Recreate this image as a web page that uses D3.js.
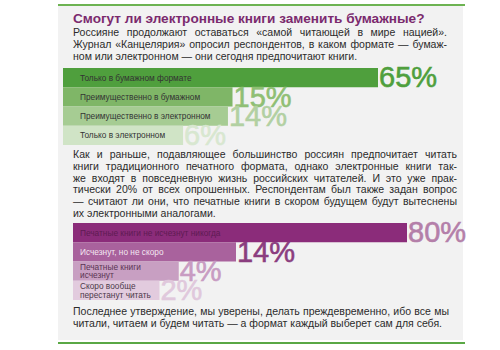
<!DOCTYPE html>
<html><head><meta charset="utf-8">
<script src="https://cdn.jsdelivr.net/npm/d3@7"></script>
<style>body{margin:0;background:#fff}</style>
</head><body><svg id="c" width="500" height="350"></svg>
<script>
// ---- data ----
const formatCategories = ["Только в бумажном формате", "Преимущественно в бумажном", "Преимущественно в электронном", "Только в электронном"];
const formatValues = [65, 15, 14, 6];
const futureCategories = ["Печатные книги не исчезнут никогда", "Исчезнут, но не скоро", "Печатные книги исчезнут", "Скоро вообще перестанут читать"];
const futureValues = [80, 14, 4, 2];
const futureLabelLines = [["Печатные книги не исчезнут никогда"], ["Исчезнут, но не скоро"], ["Печатные книги", "исчезнут"], ["Скоро вообще", "перестанут читать"]];
const titleText = "Смогут ли электронные книги заменить бумажные?";
const para1 = [
  "Россияне продолжают оставаться «самой читающей в мире нацией».",
  "Журнал «Канцелярия» опросил респондентов, в каком формате — бумаж-",
  "ном или электронном — они сегодня предпочитают книги."
];
const para2 = [
  "Как и раньше, подавляющее большинство россиян предпочитает читать",
  "книги традиционного печатного формата, однако электронные книги так-",
  "же входят в повседневную жизнь российских читателей. И это уже прак-",
  "тически 20% от всех опрошенных. Респондентам был также задан вопрос",
  "— считают ли они, что печатные книги в скором будущем будут вытеснены",
  "их электронными аналогами."
];
const para3 = [
  "Последнее утверждение, мы уверены, делать преждевременно, ибо все мы",
  "читали, читаем и будем читать — а формат каждый выберет сам для себя."
];

// ---- styles ----
const greenBars = ["#4f9f3d", "#7fb667", "#a6cc93", "#d0e4c6"];
const greenPct = ["#4f9f3d", "#8fbf74", "#b2d0a2", "#d8e7d0"];
const purpleBars = ["#8b2c7a", "#a9629d", "#c89fc2", "#e2cbde"];
const purplePct = ["#b47fa9", "#8b3d7f", "#c89cc2", "#e0c8dc"];
const purpleLabel = ["#5e1b52", "#f3e6f1", "#5a3553", "#4d3a4a"];
const FONT = "'Liberation Sans', Arial, sans-serif";

const svg = d3.select("#c");
svg.append("rect").attr("x", 58).attr("y", 6).attr("width", 405).attr("height", 334).attr("fill", "#f2f2f2");
svg.append("rect").attr("x", 58).attr("y", 4).attr("width", 407).attr("height", 2).attr("fill", "#6db352");
svg.append("rect").attr("x", 58).attr("y", 342).attr("width", 407).attr("height", 2).attr("fill", "#5aa845");

// title
const t = svg.append("text").attr("x", 73).attr("y", 23).attr("font-family", FONT)
  .attr("font-weight", "bold").attr("font-size", 14).attr("fill", "#7b2a6e").text(titleText);
const tw = t.node().getComputedTextLength();
t.attr("font-size", 14 * 352 / tw);

// paragraph font size: fit widest line (normal spacing) into column
const probe = svg.append("text").attr("font-family", FONT).attr("font-size", 12);
const cols = [[para1, 374], [para2, 384], [para3, 376]];
let fs = 12;
cols.forEach(([lines, w]) => lines.forEach(l => {
  probe.text(l);
  fs = Math.min(fs, 12 * (w - 2) / probe.node().getComputedTextLength());
}));
probe.remove();

function para(lines, x, y0, lh, width) {
  lines.forEach((line, i) => {
    const txt = svg.append("text").attr("y", y0 + i * lh).attr("font-family", FONT)
      .attr("font-size", fs).attr("fill", "#2b2b2b");
    if (i === lines.length - 1) { txt.attr("x", x).text(line); return; }
    const words = line.split(" ");
    const spans = words.map(w => txt.append("tspan").text(w));
    const ws = spans.map(s => s.node().getComputedTextLength());
    const gap = (width - d3.sum(ws)) / (words.length - 1);
    let cx = x;
    spans.forEach((s, k) => { s.attr("x", cx); cx += ws[k] + gap; });
  });
}
para(para1, 73, 36, 12, 374);
para(para2, 73, 158, 11.8, 384);
para(para3, 73, 315, 12, 376);

// green chart
const gy = d3.scaleBand().domain(formatCategories).range([68, 145]).padding(0);
const gx = d3.scaleSqrt().domain([0, d3.max(formatValues)]).range([35, 315]);
const gStart = 63;
const gG = svg.append("g");
formatCategories.forEach((c, i) => {
  gG.append("rect").attr("x", gStart).attr("y", gy(c)).attr("width", gx(formatValues[i])).attr("height", gy.bandwidth()).attr("fill", greenBars[i]);
});
formatCategories.forEach((c, i) => {
  const v = formatValues[i];
  gG.append("text").attr("x", gStart + gx(v) + 1).attr("y", gy(c) + gy.bandwidth())
    .attr("font-family", FONT).attr("font-size", 29).attr("fill", greenPct[i])
    .attr("stroke", greenPct[i]).attr("stroke-width", 0.6).text(v + "%");
  gG.append("text").attr("x", 80).attr("y", gy(c) + gy.bandwidth() / 2 + 3)
    .attr("font-family", FONT).attr("font-size", 8.3).attr("fill", "#333").text(c);
});

// purple chart
const py = d3.scaleBand().domain(futureCategories).range([223, 300]).padding(0);
const px = d3.scaleSqrt().domain([0, d3.max(futureValues)]).range([40, 334]);
const pStart = 73;
const pG = svg.append("g");
futureCategories.forEach((c, i) => {
  pG.append("rect").attr("x", pStart).attr("y", py(c)).attr("width", px(futureValues[i])).attr("height", py.bandwidth()).attr("fill", purpleBars[i]);
});
futureCategories.forEach((c, i) => {
  const v = futureValues[i];
  pG.append("text").attr("x", pStart + px(v) + 1).attr("y", py(c) + py.bandwidth())
    .attr("font-family", FONT).attr("font-size", 29).attr("fill", purplePct[i])
    .attr("stroke", purplePct[i]).attr("stroke-width", 0.6).text(v + "%");
  const lines = futureLabelLines[i];
  const cy = py(c) + py.bandwidth() / 2;
  lines.forEach((l, k) => {
    pG.append("text").attr("x", 80).attr("y", cy + 3 + (k - (lines.length - 1) / 2) * 8.5)
      .attr("font-family", FONT).attr("font-size", 8.3).attr("fill", purpleLabel[i]).text(l);
  });
});
</script></body></html>
